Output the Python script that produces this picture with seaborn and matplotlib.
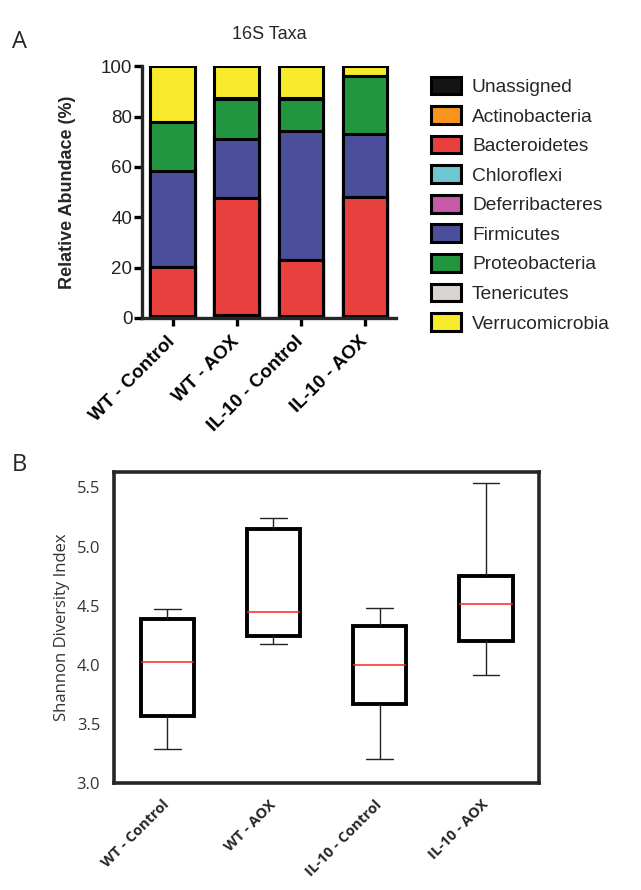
import matplotlib.pyplot as plt
import seaborn as sns
import pandas as pd
import numpy as np
from matplotlib.patches import Patch

# groups shared by both panels
groups = ['WT - Control', 'WT - AOX', 'IL-10 - Control', 'IL-10 - AOX']

# Panel A: relative abundance (%) per taxon, one value per group
taxa = ['Unassigned', 'Actinobacteria', 'Bacteroidetes', 'Chloroflexi', 'Deferribacteres',
        'Firmicutes', 'Proteobacteria', 'Tenericutes', 'Verrucomicrobia']
taxa_colors = ['#141414', '#F7941D', '#E8403F', '#6EC6D0', '#C45AA8',
               '#4B4E9B', '#22963F', '#D8D4D0', '#F7EB2B']
unassigned = [0.5, 1.2, 0.5, 0.5]
actinobacteria = [0.2, 0.1, 0.1, 0.1]
bacteroidetes = [19.5, 46.3, 22.4, 47.4]
chloroflexi = [0.0, 0.0, 0.0, 0.0]
deferribacteres = [0.1, 0.1, 0.1, 0.1]
firmicutes = [38.1, 23.4, 51.0, 25.0]
proteobacteria = [19.5, 16.0, 13.0, 23.0]
tenericutes = [0.1, 0.1, 0.1, 0.1]
verrucomicrobia = [22.0, 12.8, 12.8, 3.8]

# Panel B: Shannon index per group (min, Q1, median, Q3, max)
shannon_wt_control = [3.29, 3.57, 4.02, 4.39, 4.47]
shannon_wt_aox = [4.18, 4.24, 4.45, 5.15, 5.24]
shannon_il10_control = [3.20, 3.67, 4.00, 4.33, 4.48]
shannon_il10_aox = [3.91, 4.20, 4.51, 4.75, 5.54]

sns.set_style("ticks")
plt.rcParams['font.family'] = ['Liberation Sans', 'DejaVu Sans']
open_sans = ['Open Sans', 'DejaVu Sans']

fig = plt.figure(figsize=(6.41, 8.9), dpi=100)

# ---- Panel A: stacked bars ----
axA = fig.add_axes([0.2215, 0.6427, 0.396, 0.283])
abund = np.array([unassigned, actinobacteria, bacteroidetes, chloroflexi, deferribacteres,
                  firmicutes, proteobacteria, tenericutes, verrucomicrobia])
cum = np.cumsum(abund, axis=0)
# draw from the top segment down so each layer covers the one below
for i in reversed(range(len(taxa))):
    sns.barplot(x=groups, y=cum[i], color=taxa_colors[i], saturation=1,
                edgecolor='black', linewidth=2.2, width=0.7, ax=axA)

axA.set_ylim(0, 100)
axA.set_xlim(-0.48, 3.48)
axA.set_yticks([0, 20, 40, 60, 80, 100])
sns.despine(ax=axA)
for s in ['left', 'bottom']:
    axA.spines[s].set_linewidth(2.4)
axA.tick_params(axis='both', length=6, width=2.4, labelsize=13.5, colors='black')
axA.tick_params(axis='y', labelcolor='#222222', pad=1)
axA.tick_params(axis='x', pad=9)
axA.set_xticks(range(len(groups)))
axA.set_xticklabels(groups, rotation=45, ha='right', va='center', rotation_mode='anchor',
                    fontweight='bold', fontsize=13.5)
axA.set_ylabel('')
fig.text(0.106, 0.784, 'Relative Abundace (%)', rotation=90, ha='center', va='center',
         fontsize=13, fontweight='bold')
fig.text(0.42, 0.9607, '16S Taxa', ha='center', va='center', fontsize=13)

handles = [Patch(facecolor=c, edgecolor='black', linewidth=2.2) for c in taxa_colors]
fig.legend(handles, taxa, loc='upper left', bbox_to_anchor=(0.672, 0.914), frameon=False,
           fontsize=13.8, handlelength=1.6, handleheight=1.05, labelspacing=0.53,
           handletextpad=0.55, borderpad=0, borderaxespad=0)

# ---- Panel B: boxplots ----
axB = fig.add_axes([0.178, 0.1202, 0.663, 0.3494])
df = pd.DataFrame({
    'group': np.repeat(groups, 5),
    'shannon': shannon_wt_control + shannon_wt_aox + shannon_il10_control + shannon_il10_aox,
})
sns.boxplot(data=df, x='group', y='shannon', order=groups, whis=(0, 100), width=0.5,
            boxprops=dict(facecolor='white', edgecolor='black', linewidth=2.8),
            whiskerprops=dict(color='#222222', linewidth=1.0),
            capprops=dict(color='#222222', linewidth=1.0),
            medianprops=dict(color='#FF2020', linewidth=1.1),
            ax=axB)
axB.set_ylim(3.0, 5.63)
axB.set_xlim(-0.5, 3.5)
axB.set_yticks([3.0, 3.5, 4.0, 4.5, 5.0, 5.5])
axB.set_yticklabels(['3.0', '3.5', '4.0', '4.5', '5.0', '5.5'], family=open_sans,
                    fontsize=12, color='#333333')
for s in axB.spines.values():
    s.set_linewidth(2.6)
axB.tick_params(axis='y', length=0, pad=10)
axB.tick_params(axis='x', length=0, pad=14)
axB.set_xticks(range(len(groups)))
axB.set_xticklabels(groups, rotation=45, ha='right', va='center', rotation_mode='anchor',
                    fontweight='bold', fontsize=10.5, family=open_sans)
axB.set_xlabel('')
axB.set_ylabel('')
fig.text(0.0967, 0.2955, 'Shannon Diversity Index', rotation=90, ha='center', va='center',
         fontsize=12, color='#333333', family=open_sans)

fig.text(0.019, 0.953, 'A', ha='left', va='center', fontsize=17, family=open_sans)
fig.text(0.019, 0.4775, 'B', ha='left', va='center', fontsize=17, family=open_sans)

fig.savefig('out.png', dpi=100)
